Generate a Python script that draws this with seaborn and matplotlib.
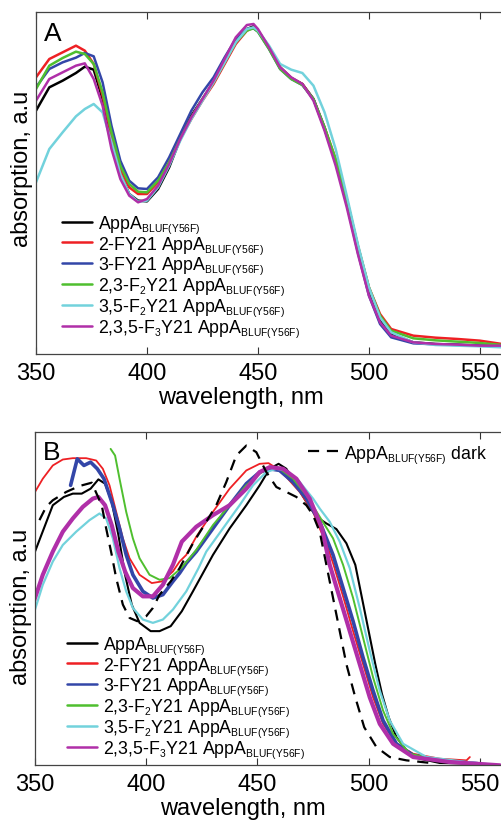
import numpy as np
import pandas as pd
import matplotlib
matplotlib.use("Agg")
import matplotlib.pyplot as plt
import matplotlib._mathtext as mtext
import seaborn as sns

# ---- panel A: steady-state spectra, common wavelength grid (nm) ----
wl_a = [350, 356, 362, 368, 372, 376, 380, 384, 388, 392, 396, 400, 405, 410,
        415, 420, 425, 430, 435, 440, 445, 448, 450, 455, 460, 465, 470, 475,
        480, 485, 490, 495, 500, 505, 510, 520, 530, 540, 550, 560]
a_wt = [.705, .775, .795, .818, .837, .828, .740, .615, .515, .455, .435, .433, .470, .535,
        .620, .690, .740, .790, .850, .910, .950, .958, .945, .895, .835, .803, .785, .740,
        .650, .550, .430, .290, .160, .075, .035, .010, .005, .003, .000, .000]
a_2f = [.805, .860, .880, .900, .885, .845, .750, .630, .530, .475, .455, .455, .490, .550,
        .620, .680, .735, .785, .845, .905, .945, .955, .945, .895, .835, .803, .785, .740,
        .655, .560, .440, .300, .175, .095, .050, .030, .024, .020, .015, .005]
a_3f = [.775, .830, .850, .864, .878, .868, .790, .660, .555, .495, .472, .470, .505, .565,
        .635, .705, .760, .805, .865, .920, .950, .952, .942, .890, .830, .800, .782, .740,
        .655, .550, .425, .280, .150, .065, .025, .007, .004, .002, .000, .000]
a_23f2 = [.770, .840, .863, .882, .875, .845, .760, .640, .540, .485, .462, .460, .495, .550,
          .620, .685, .740, .790, .850, .910, .945, .952, .942, .890, .830, .800, .782, .740,
          .655, .560, .440, .300, .175, .090, .045, .022, .016, .012, .008, .002]
a_35f2 = [.490, .590, .640, .688, .710, .725, .700, .610, .515, .455, .432, .435, .475, .540,
          .615, .680, .735, .790, .850, .910, .950, .955, .945, .900, .845, .828, .818, .780,
          .700, .590, .450, .305, .175, .085, .040, .010, .002, .000, -.002, -.005]
a_235f3 = [.735, .800, .820, .840, .847, .800, .720, .590, .500, .450, .430, .440, .480, .545,
           .620, .685, .740, .795, .860, .925, .962, .965, .950, .895, .835, .805, .785, .735,
           .645, .540, .415, .275, .150, .070, .030, .010, .005, .003, .000, .000]

# ---- panel B: light-state spectra, each with its own wavelengths ----
b_wt_x = [350, 354, 358, 363, 367, 371, 375, 378.5, 381.5, 384.5, 387.5, 390.5, 393.5, 397,
          402, 406, 411, 416, 421, 430, 437.5, 445, 451, 455.5, 459.5, 463, 467.5, 472,
          476.5, 481, 485.5, 490, 494, 497, 500, 503, 506, 509, 512.5, 517, 523, 532, 549]
b_wt_y = [.640, .710, .780, .805, .815, .815, .830, .858, .845, .790, .690, .570, .480, .425,
          .400, .400, .415, .460, .520, .630, .710, .780, .840, .890, .905, .890, .840, .790,
          .745, .725, .708, .665, .600, .500, .400, .300, .210, .140, .080, .040, .015, .002, .000]
b_2f_x = [350, 353.5, 358, 362.5, 367, 373, 377.5, 380.5, 383.5, 386.5, 389.5, 392.5, 397,
          402.5, 407, 412, 415, 418, 422.5, 430, 437.5, 445, 451, 455, 458.5, 463, 469, 475,
          478, 481, 484, 488.5, 493, 497.5, 502, 506.5, 512.5, 520, 532, 544, 545.5]
b_2f_y = [.820, .860, .900, .918, .922, .922, .915, .890, .840, .760, .680, .620, .570,
          .545, .550, .580, .610, .630, .685, .760, .830, .885, .905, .907, .892, .865, .820, .760,
          .710, .665, .605, .505, .400, .300, .200, .120, .060, .030, .015, .010, .020]
b_3f_x = [366, 369, 372, 375, 378, 381, 385, 388, 391, 394, 398.5, 403, 407.5, 412, 415, 418,
          422.5, 430, 437.5, 445, 451, 455.5, 460, 466, 472, 478, 484, 488.5, 493, 497.5,
          502, 506.5, 512.5, 520, 532, 549]
b_3f_y = [.840, .920, .900, .910, .890, .860, .780, .710, .630, .570, .520, .500, .510, .550,
          .575, .605, .640, .710, .780, .845, .880, .890, .885, .850, .800, .730, .630, .530,
          .430, .320, .220, .130, .060, .025, .010, .000]
b_23f2_x = [384, 386, 388, 391, 394, 397, 401.5, 406, 410.5, 416, 422.5, 430, 437.5, 445,
            451, 455.5, 460, 466, 472, 478, 484, 488.5, 493, 497.5, 502, 506.5, 511, 518.5,
            532, 549]
b_23f2_y = [.950, .930, .860, .760, .680, .620, .570, .555, .560, .592, .645, .720, .780, .840,
            .875, .895, .890, .860, .810, .745, .680, .600, .500, .380, .260, .160, .090, .030,
            .010, .000]
b_35f2_x = [350, 353.5, 358, 362.5, 368.5, 374.5, 379, 382, 385, 388, 391, 394, 398.5, 403,
            407.5, 412, 418, 423.5, 427, 434.5, 442, 448, 454, 458.5, 463, 469, 475, 478,
            482.5, 487, 491.5, 496, 500.5, 505, 509.5, 515.5, 526, 544, 559]
b_35f2_y = [.465, .540, .610, .660, .700, .735, .755, .740, .680, .590, .520, .470, .435, .425,
            .435, .465, .520, .590, .640, .710, .780, .840, .880, .890, .885, .850, .800, .770,
            .730, .670, .590, .470, .340, .220, .130, .060, .020, .005, -.005]
b_235f3_x = [349.5, 353.5, 358, 362.5, 367, 371.5, 376, 378.5, 381.5, 384.5, 387.5, 390.5, 394,
             398.5, 403, 407.5, 412, 416, 422.5, 430, 437.5, 445, 451, 455.5, 461.5, 467.5,
             473.5, 479, 482.5, 487, 491.5, 496, 500.5, 505, 511, 520, 536.5, 559]
b_235f3_y = [.490, .570, .640, .700, .740, .775, .800, .805, .780, .720, .640, .580, .530,
             .505, .505, .540, .600, .670, .715, .750, .780, .830, .880, .895, .890, .860,
             .800, .710, .600, .500, .400, .300, .200, .120, .060, .020, .005, -.005]
b_dark_x = [352, 355, 358, 364, 370, 375.5, 380, 382, 384.5, 386.5, 389.5, 392.5, 396, 400,
            403, 406, 411, 415, 421, 427, 431.5, 436, 440.5, 445, 449.5, 454, 458.5, 463,
            467.5, 472, 475, 478, 481, 484, 487, 490, 494, 498, 503.5, 509.5, 517, 528]
b_dark_y = [.735, .775, .795, .820, .838, .848, .780, .710, .630, .560, .480, .440, .430, .445,
            .470, .510, .550, .590, .665, .730, .780, .850, .930, .960, .940, .880, .835, .820,
            .805, .780, .750, .700, .600, .500, .400, .300, .200, .110, .050, .020, .010, .002]

SUB = r"$_{\mathregular{BLUF(Y56F)}}$"
labels = ["AppA" + SUB,
          "2-FY21 AppA" + SUB,
          "3-FY21 AppA" + SUB,
          r"2,3-F$_\mathregular{2}$Y21 AppA" + SUB,
          r"3,5-F$_\mathregular{2}$Y21 AppA" + SUB,
          r"2,3,5-F$_\mathregular{3}$Y21 AppA" + SUB]
colors = ["#000000", "#ee2024", "#3346a8", "#4fbf2f", "#72d2dc", "#b02fa8"]

sns.set_theme(style="ticks")
plt.rcParams["font.family"] = ["Liberation Sans", "DejaVu Sans"]
plt.rcParams["mathtext.fontset"] = "custom"
plt.rcParams["mathtext.rm"] = "Liberation Sans"
plt.rcParams["text.color"] = "black"
plt.rcParams["axes.labelcolor"] = "black"
plt.rcParams["xtick.labelcolor"] = "black"
# subscripts in the original are small, shrink them a bit more than default
mtext.SHRINK_FACTOR = 0.58

fig = plt.figure(figsize=(5.01, 8.29), dpi=100)
W, H = 501, 829
axA = fig.add_axes([36 / W, (H - 355) / H, 1 - 36 / W, 342 / H])
axB = fig.add_axes([35 / W, (H - 766) / H, 1 - 35 / W, 333 / H])

series_a = [a_wt, a_2f, a_3f, a_23f2, a_35f2, a_235f3]
for vals, lab, col in zip(series_a, labels, colors):
    sns.lineplot(x=wl_a, y=vals, ax=axA, color=col, lw=1.8, label=lab)

series_b = [(b_wt_x, b_wt_y, 1.5), (b_2f_x, b_2f_y, 1.3), (b_3f_x, b_3f_y, 2.6),
            (b_23f2_x, b_23f2_y, 1.4), (b_35f2_x, b_35f2_y, 1.6), (b_235f3_x, b_235f3_y, 3.0)]
for (bx, by, lw), lab, col in zip(series_b, labels, colors):
    sns.lineplot(x=bx, y=by, ax=axB, color=col, lw=lw, label=lab)
dark_line = axB.plot(b_dark_x, b_dark_y, color="black", lw=1.6, ls=(0, (5, 3.5)))[0]

panels = [(axA, "A", (-0.025, 1.001), 0.44, 0.544),
          (axB, "B", (-0.004, 1.001), 0.447, 0.477)]
for ax, letter, ylim, xl, yl in panels:
    ax.set_xlim(350, 559.5)
    ax.set_ylim(*ylim)
    ax.set_xticks([350, 400, 450, 500, 550])
    ax.set_yticks([])
    ax.tick_params(axis="x", direction="in", top=True, length=5, width=0.8,
                   labelsize=17, pad=6, color="#333333")
    for side in ["left", "top", "bottom"]:
        ax.spines[side].set_color("#444444")
        ax.spines[side].set_linewidth(0.9)
    ax.spines["right"].set_visible(False)
    ax.set_xlabel("wavelength, nm", fontsize=17, labelpad=1)
    ax.set_ylabel("absorption, a.u", fontsize=17, labelpad=2)
    ax.xaxis.label.set_x(xl)
    ax.yaxis.label.set_y(yl)
    ax.text(0.017, 0.975, letter, transform=ax.transAxes, fontsize=19,
            ha="left", va="top")

leg_kw = dict(loc="upper left", frameon=False, fontsize=12.8, handlelength=1.7,
              handletextpad=0.34, labelspacing=-0.05, borderpad=0, borderaxespad=0)
legA = axA.legend(bbox_to_anchor=(0.056, 0.412), **leg_kw)
legB = axB.legend(bbox_to_anchor=(0.069, 0.393), **leg_kw)
for leg in (legA, legB):
    for h in leg.get_lines():
        h.set_linewidth(1.8)
axB.add_artist(legB)
axB.legend([dark_line], ["AppA" + SUB + " dark"], bbox_to_anchor=(0.585, 0.967), **leg_kw)

fig.savefig("out.png", dpi=100)
